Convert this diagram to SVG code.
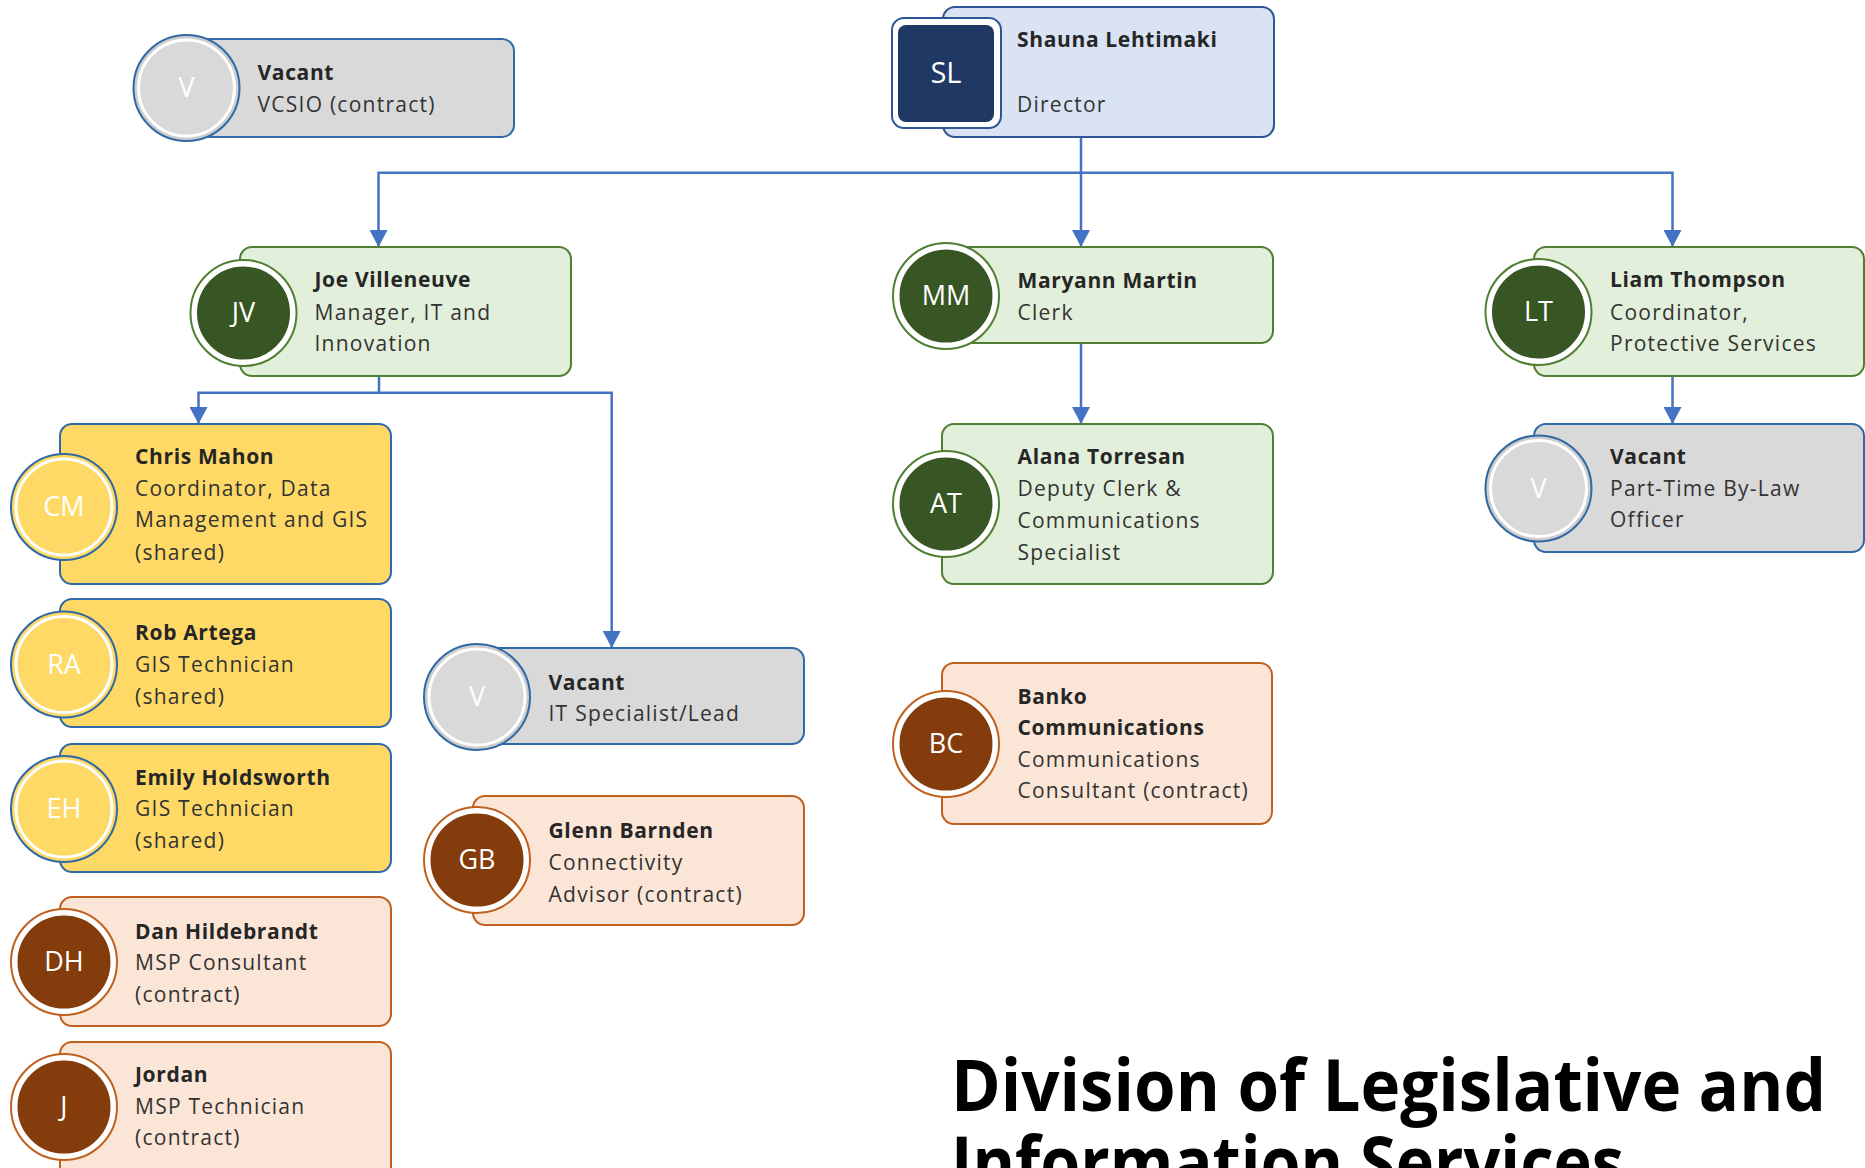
<svg xmlns="http://www.w3.org/2000/svg" width="1865" height="1168" viewBox="0 0 1865 1168">
<defs>
<style>
.box{stroke-width:2}
.gray{fill:#d9d9d9;stroke:#2f69a6}
.yel{fill:#ffd966;stroke:#2f69a6}
.grn{fill:#e2efda;stroke:#507e32}
.org{fill:#fbe5d6;stroke:#c0601f}
.ring{stroke:#fff;stroke-width:3}
.t{font-family:"Open Sans","Liberation Sans",sans-serif;font-size:21px;fill:#333;letter-spacing:1.25px}
.n{font-weight:700;fill:#262626;letter-spacing:0.65px}
.ini{font-family:"Open Sans","Liberation Sans",sans-serif;font-size:27px;fill:#fff;text-anchor:middle}
.con{fill:none;stroke:#4472c4;stroke-width:2.5}
.title{font-family:"Open Sans","Liberation Sans",sans-serif;font-weight:700;font-size:72px;fill:#000}
</style>
<marker id="arr" viewBox="0 0 17 18" refX="17" refY="9" markerWidth="17" markerHeight="18" markerUnits="userSpaceOnUse" orient="auto">
<path d="M0 0 L17 9 L0 18 z" fill="#4472c4"/>
</marker>
</defs>
<rect width="1865" height="1168" fill="#fff"/>

<g id="connectors">
<path class="con" d="M1081 137 V172.7 H378.5 V247" marker-end="url(#arr)"/>
<path class="con" d="M1081 172.7 V247" marker-end="url(#arr)"/>
<path class="con" d="M1081 172.7 H1672.5 V247" marker-end="url(#arr)"/>
<path class="con" d="M379 376 V392.7 H198.5 V424" marker-end="url(#arr)"/>
<path class="con" d="M379 392.7 H611.7 V648" marker-end="url(#arr)"/>
<path class="con" d="M1081 343 V424" marker-end="url(#arr)"/>
<path class="con" d="M1672.5 376 V424" marker-end="url(#arr)"/>
</g>

<g id="node-vcsio">
<rect class="box gray" x="183" y="39" width="331" height="98" rx="12"/>
<circle class="box gray" cx="186.5" cy="88" r="53" style="fill:#cdcdcd"/>
<circle class="ring" cx="186.5" cy="88" r="48" fill="#d9d9d9"/>
<text class="ini" x="186.5" y="97">V</text>
<text class="t n" x="257.5" y="80">Vacant</text>
<text class="t" x="257.5" y="112">VCSIO (contract)</text>
</g>

<g id="node-sl">
<rect class="box" x="943" y="7" width="331" height="130" rx="12" fill="#dae3f3" stroke="#2f5597"/>
<rect x="892" y="18" width="109" height="110" rx="12" fill="#fff" stroke="#2f5597" stroke-width="2"/>
<rect x="898" y="25" width="96" height="97" rx="8" fill="#203864"/>
<text class="ini" x="946" y="83" style="font-size:29px">SL</text>
<text class="t n" x="1017" y="47">Shauna Lehtimaki</text>
<text class="t" x="1017" y="112">Director</text>
</g>

<g id="node-jv">
<rect class="box grn" x="240" y="247" width="331" height="129" rx="12"/>
<circle class="box" cx="243.5" cy="313" r="53" fill="#fff" stroke="#507e32"/>
<circle class="ring" cx="243.5" cy="313" r="48" fill="#375623"/>
<text class="ini" x="243.5" y="322">JV</text>
<text class="t n" x="314.5" y="287">Joe Villeneuve</text>
<text class="t" x="314.5" y="320">Manager, IT and</text>
<text class="t" x="314.5" y="351">Innovation</text>
</g>

<g id="node-mm">
<rect class="box grn" x="942" y="247" width="331" height="96" rx="12"/>
<circle class="box" cx="946" cy="296" r="53" fill="#fff" stroke="#507e32"/>
<circle class="ring" cx="946" cy="296" r="48" fill="#375623"/>
<text class="ini" x="946" y="305">MM</text>
<text class="t n" x="1017.5" y="288">Maryann Martin</text>
<text class="t" x="1017.5" y="319.5">Clerk</text>
</g>

<g id="node-lt">
<rect class="box grn" x="1534" y="247" width="330" height="129" rx="12"/>
<circle class="box" cx="1538.5" cy="312" r="53" fill="#fff" stroke="#507e32"/>
<circle class="ring" cx="1538.5" cy="312" r="48" fill="#375623"/>
<text class="ini" x="1538.5" y="321">LT</text>
<text class="t n" x="1610" y="287">Liam Thompson</text>
<text class="t" x="1610" y="320">Coordinator,</text>
<text class="t" x="1610" y="351">Protective Services</text>
</g>

<g id="node-cm">
<rect class="box yel" x="60" y="424" width="331" height="160" rx="12"/>
<circle class="box yel" cx="64" cy="507" r="53"/>
<circle class="ring" cx="64" cy="507" r="48" fill="#ffd966"/>
<text class="ini" x="64" y="516">CM</text>
<text class="t n" x="135" y="463.5">Chris Mahon</text>
<text class="t" x="135" y="496">Coordinator, Data</text>
<text class="t" x="135" y="527">Management and GIS</text>
<text class="t" x="135" y="560">(shared)</text>
</g>

<g id="node-ra">
<rect class="box yel" x="60" y="599" width="331" height="128" rx="12"/>
<circle class="box yel" cx="64" cy="664.5" r="53"/>
<circle class="ring" cx="64" cy="664.5" r="48" fill="#ffd966"/>
<text class="ini" x="64" y="673.5">RA</text>
<text class="t n" x="135" y="640">Rob Artega</text>
<text class="t" x="135" y="672">GIS Technician</text>
<text class="t" x="135" y="704">(shared)</text>
</g>

<g id="node-eh">
<rect class="box yel" x="60" y="744" width="331" height="128" rx="12"/>
<circle class="box yel" cx="64" cy="809" r="53"/>
<circle class="ring" cx="64" cy="809" r="48" fill="#ffd966"/>
<text class="ini" x="64" y="818">EH</text>
<text class="t n" x="135" y="784.5">Emily Holdsworth</text>
<text class="t" x="135" y="816">GIS Technician</text>
<text class="t" x="135" y="848">(shared)</text>
</g>

<g id="node-dh">
<rect class="box org" x="60" y="897" width="331" height="129" rx="12"/>
<circle class="box" cx="64" cy="962" r="53" fill="#fff" stroke="#c0601f"/>
<circle class="ring" cx="64" cy="962" r="48" fill="#843c0c"/>
<text class="ini" x="64" y="971">DH</text>
<text class="t n" x="135" y="938.5">Dan Hildebrandt</text>
<text class="t" x="135" y="970">MSP Consultant</text>
<text class="t" x="135" y="1002">(contract)</text>
</g>

<g id="node-j">
<rect class="box org" x="60" y="1042" width="331" height="140" rx="12"/>
<circle class="box" cx="64" cy="1107" r="53" fill="#fff" stroke="#c0601f"/>
<circle class="ring" cx="64" cy="1107" r="48" fill="#843c0c"/>
<text class="ini" x="64" y="1116">J</text>
<text class="t n" x="135" y="1082">Jordan</text>
<text class="t" x="135" y="1113.5">MSP Technician</text>
<text class="t" x="135" y="1145">(contract)</text>
</g>

<g id="node-it">
<rect class="box gray" x="473" y="648" width="331" height="96" rx="12"/>
<circle class="box gray" cx="477" cy="697" r="53" style="fill:#cdcdcd"/>
<circle class="ring" cx="477" cy="697" r="48" fill="#d9d9d9"/>
<text class="ini" x="477" y="706">V</text>
<text class="t n" x="548.5" y="689.5">Vacant</text>
<text class="t" x="548.5" y="721">IT Specialist/Lead</text>
</g>

<g id="node-gb">
<rect class="box org" x="473" y="796" width="331" height="129" rx="12"/>
<circle class="box" cx="477" cy="860" r="53" fill="#fff" stroke="#c0601f"/>
<circle class="ring" cx="477" cy="860" r="48" fill="#843c0c"/>
<text class="ini" x="477" y="869">GB</text>
<text class="t n" x="548.5" y="838">Glenn Barnden</text>
<text class="t" x="548.5" y="870">Connectivity</text>
<text class="t" x="548.5" y="902">Advisor (contract)</text>
</g>

<g id="node-at">
<rect class="box grn" x="942" y="424" width="331" height="160" rx="12"/>
<circle class="box" cx="946" cy="504" r="53" fill="#fff" stroke="#507e32"/>
<circle class="ring" cx="946" cy="504" r="48" fill="#375623"/>
<text class="ini" x="946" y="513">AT</text>
<text class="t n" x="1017.5" y="464">Alana Torresan</text>
<text class="t" x="1017.5" y="496">Deputy Clerk &amp;</text>
<text class="t" x="1017.5" y="528">Communications</text>
<text class="t" x="1017.5" y="559.5">Specialist</text>
</g>

<g id="node-bc">
<rect class="box org" x="942" y="663" width="330" height="161" rx="12"/>
<circle class="box" cx="946" cy="744" r="53" fill="#fff" stroke="#c0601f"/>
<circle class="ring" cx="946" cy="744" r="48" fill="#843c0c"/>
<text class="ini" x="946" y="753">BC</text>
<text class="t n" x="1017.5" y="703.5">Banko</text>
<text class="t n" x="1017.5" y="734.5">Communications</text>
<text class="t" x="1017.5" y="766.5">Communications</text>
<text class="t" x="1017.5" y="798">Consultant (contract)</text>
</g>

<g id="node-pt">
<rect class="box gray" x="1534" y="424" width="330" height="128" rx="12"/>
<circle class="box gray" cx="1538.5" cy="488.5" r="53" style="fill:#cdcdcd"/>
<circle class="ring" cx="1538.5" cy="488.5" r="48" fill="#d9d9d9"/>
<text class="ini" x="1538.5" y="497.5">V</text>
<text class="t n" x="1610" y="463.5">Vacant</text>
<text class="t" x="1610" y="496">Part-Time By-Law</text>
<text class="t" x="1610" y="527">Officer</text>
</g>

<g id="title">
<text class="title" x="951" y="1111" textLength="875" lengthAdjust="spacingAndGlyphs">Division of Legislative and</text>
<text class="title" x="951" y="1188" textLength="673" lengthAdjust="spacingAndGlyphs">Information Services</text>
</g>
</svg>
